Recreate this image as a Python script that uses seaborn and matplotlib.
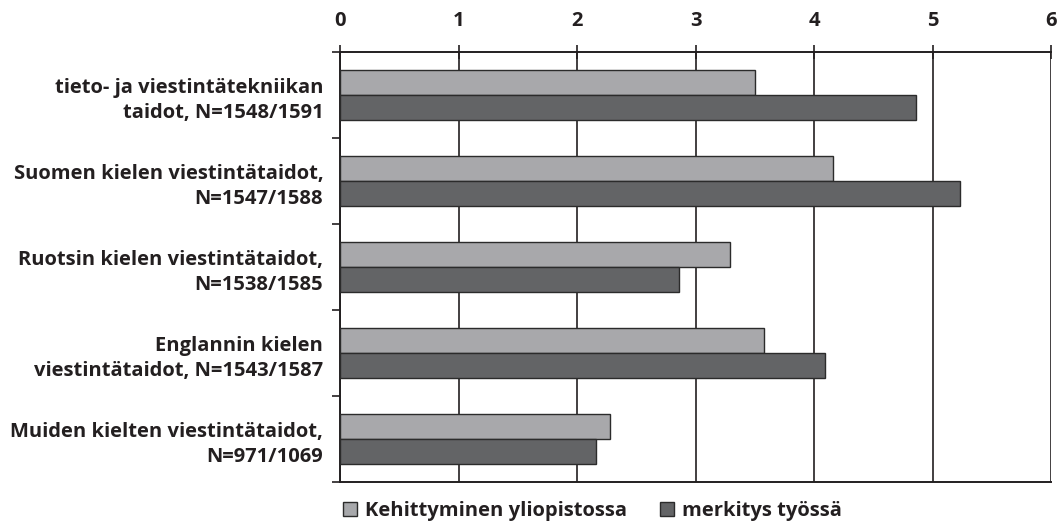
import pandas as pd
import matplotlib.pyplot as plt
import seaborn as sns

# arvot luettu kuvasta
taidot = [
    "tieto- ja viestintätekniikan\ntaidot, N=1548/1591",
    "Suomen kielen viestintätaidot,\nN=1547/1588",
    "Ruotsin kielen viestintätaidot,\nN=1538/1585",
    "Englannin kielen\nviestintätaidot, N=1543/1587",
    "Muiden kielten viestintätaidot,\nN=971/1069",
]
sarjat = ["Kehittyminen yliopistossa", "merkitys työssä"]
kehittyminen = [3.50, 4.16, 3.29, 3.58, 2.28]
merkitys = [4.86, 5.23, 2.86, 4.09, 2.16]
xticks = [0, 1, 2, 3, 4, 5, 6]

df = pd.DataFrame({
    "taito": taidot * 2,
    "sarja": [sarjat[0]] * len(taidot) + [sarjat[1]] * len(taidot),
    "arvo": kehittyminen + merkitys,
})

sns.set_style("white")
plt.rcParams["font.family"] = ["Open Sans", "DejaVu Sans"]
plt.rcParams["font.weight"] = "bold"

fig = plt.figure(figsize=(10.61, 5.27), dpi=100)
ax = fig.add_axes([340 / 1061, 1 - 482 / 527, 711 / 1061, 430 / 527])

varit = {"Kehittyminen yliopistossa": "#a7a8ab", "merkitys työssä": "#636466"}
sns.barplot(data=df, y="taito", x="arvo", hue="sarja", orient="h",
            palette=varit, width=0.58, edgecolor="#2b2b2b", linewidth=1.0,
            ax=ax, legend=False, zorder=3)

ax.set_xlim(0, 6)
ax.set_xticks(xticks)
ax.set_xticklabels([str(t) for t in xticks], fontsize=14.5, fontweight="bold", color="#231f20")
ax.xaxis.tick_top()
ax.tick_params(axis="x", direction="inout", length=10, width=1.2, color="#231f20", pad=10)
ax.grid(axis="x", color="#231f20", linewidth=1.2, zorder=0)
ax.set_axisbelow(True)

ax.set_yticks(range(len(taidot)))
ax.set_yticklabels(taidot, fontsize=14.5, fontweight="bold", color="#231f20", linespacing=1.35)
ax.tick_params(axis="y", length=0, pad=12)
ax.set_yticks([i - 0.5 for i in range(len(taidot) + 1)], minor=True)
ax.tick_params(axis="y", which="minor", left=True, length=6, width=1.2, color="#231f20")
ax.set_ylim(len(taidot) - 0.5, -0.5)

ax.set_xlabel("")
ax.set_ylabel("")
for side in ["top", "left", "bottom"]:
    ax.spines[side].set_visible(True)
    ax.spines[side].set_color("#231f20")
    ax.spines[side].set_linewidth(1.4)
ax.spines["right"].set_visible(False)

kahvat = [plt.Line2D([], [], marker="s", linestyle="none", markersize=10,
                     markerfacecolor=varit[s], markeredgecolor="#2b2b2b", markeredgewidth=1.0)
          for s in sarjat]
leg = fig.legend(kahvat, sarjat, loc="center", bbox_to_anchor=(592 / 1061, 1 - 511 / 527),
                 ncol=2, frameon=False, handletextpad=0.35, columnspacing=1.6,
                 prop={"size": 14.5, "weight": "bold"}, handlelength=0.8)
for t in leg.get_texts():
    t.set_color("#231f20")

fig.savefig("out.png", dpi=100)
